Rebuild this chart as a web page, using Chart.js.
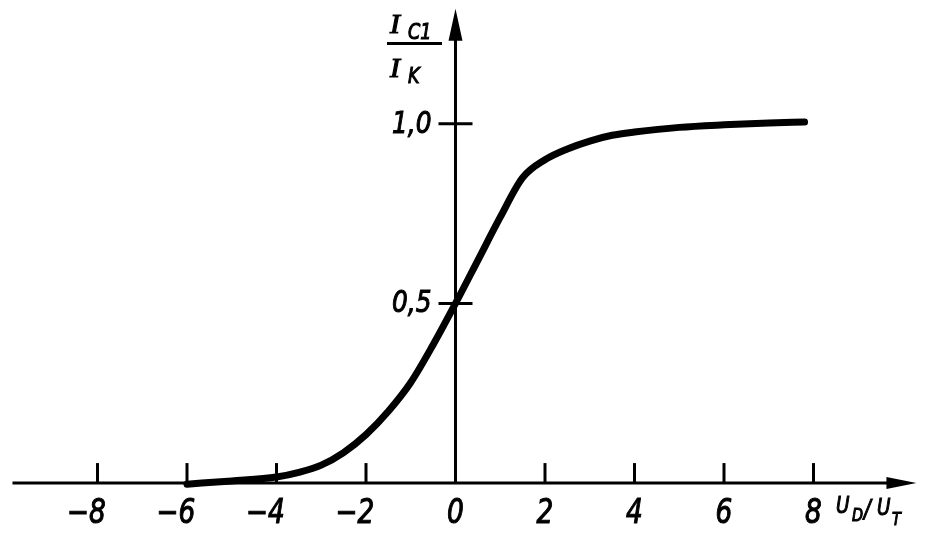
<!DOCTYPE html>
<html>
<head>
<meta charset="utf-8">
<script src="https://cdn.jsdelivr.net/npm/chart.js@4"></script>
<style>
  html, body { margin: 0; padding: 0; background: #fff; }
  #wrap { width: 931px; height: 534px; }
</style>
</head>
<body>
<div id="wrap"><canvas id="sigmoidChart" width="931" height="534"></canvas></div>
<script>
// values
const xValues = [-6, -5, -4, -3.5, -3, -2.5, -2, -1.5, -1, -0.5, 0, 0.5, 1, 1.5, 2, 2.5, 3, 3.5, 4, 5, 6, 7, 7.8];
const ratioValues = [-0.003, 0.006, 0.017, 0.03, 0.05, 0.085, 0.135, 0.2, 0.28, 0.385, 0.5, 0.62, 0.74, 0.85, 0.9, 0.93, 0.952, 0.968, 0.977, 0.99, 0.997, 1.002, 1.005];
const xTicks = [-8, -6, -4, -2, 0, 2, 4, 6, 8];
const xTickLabels = ["−8", "−6", "−4", "−2", "0", "2", "4", "6", "8"];
const yTicks = [0.5, 1.0];
const yTickLabels = ["0,5", "1,0"];

const FONT = '"DejaVu Sans"';

// italic, slightly condensed text like the drawing
function drawText(ctx, str, x, y, size, align, family, sx) {
  ctx.save();
  ctx.translate(x, y);
  ctx.scale(sx || 0.8, 1);
  ctx.font = "italic " + size + "px " + (family || FONT);
  ctx.textAlign = align || "left";
  ctx.textBaseline = "alphabetic";
  ctx.fillStyle = "#000";
  ctx.strokeStyle = "#000";
  ctx.lineWidth = 1.1;
  ctx.fillText(str, 0, 0);
  ctx.strokeText(str, 0, 0);
  ctx.restore();
}

function textWidth(ctx, str, size) {
  ctx.save();
  ctx.font = "italic " + size + "px " + FONT;
  const w = ctx.measureText(str).width * 0.8;
  ctx.restore();
  return w;
}

function arrowHead(ctx, tipX, tipY, dirX, dirY, len, half) {
  const bx = tipX - dirX * len, by = tipY - dirY * len;
  ctx.beginPath();
  ctx.moveTo(tipX, tipY);
  ctx.lineTo(bx - dirY * half, by + dirX * half);
  ctx.lineTo(bx + dirY * half, by - dirX * half);
  ctx.closePath();
  ctx.fill();
}

// axes with arrows, inside ticks and labels
const axesPlugin = {
  id: "axesPlugin",
  beforeDatasetsDraw(chart) {
    const ctx = chart.ctx;
    const xs = chart.scales.x, ys = chart.scales.y;
    const x0 = xs.getPixelForValue(0);
    const y0 = ys.getPixelForValue(0);
    ctx.save();
    ctx.strokeStyle = "#000";
    ctx.fillStyle = "#000";
    ctx.lineWidth = 3;

    // x axis
    const xStart = xs.getPixelForValue(-9.9);
    const xEnd = xs.getPixelForValue(10.3);
    ctx.beginPath();
    ctx.moveTo(xStart, y0);
    ctx.lineTo(xEnd - 10, y0);
    ctx.stroke();
    arrowHead(ctx, xEnd, y0, 1, 0, 30, 6);

    // y axis
    const yTop = ys.getPixelForValue(1.32);
    ctx.beginPath();
    ctx.moveTo(x0, y0 + 1);
    ctx.lineTo(x0, yTop + 10);
    ctx.stroke();
    arrowHead(ctx, x0, yTop, 0, -1, 32, 7);

    // x ticks
    xTicks.forEach((v, i) => {
      const px = xs.getPixelForValue(v);
      if (v !== 0) {
        ctx.beginPath();
        ctx.moveTo(px, y0);
        ctx.lineTo(px, y0 - 20);
        ctx.stroke();
      }
      const label = xTickLabels[i];
      const digits = label.replace("−", "");
      const w = textWidth(ctx, digits, 33);
      drawText(ctx, label, px + w / 2, y0 + 40, 33, "right");
    });

    // y ticks
    yTicks.forEach((v, i) => {
      const py = ys.getPixelForValue(v);
      ctx.beginPath();
      ctx.moveTo(x0 - 17, py);
      ctx.lineTo(x0 + 17, py);
      ctx.stroke();
      drawText(ctx, yTickLabels[i], x0 - 24, py + 9, 31, "right");
    });

    // y title: I_C1 / I_K
    drawText(ctx, "I", 390, 33, 27, "left", '"Liberation Serif"', 1.1);
    drawText(ctx, "C1", 408, 39, 22);
    ctx.beginPath();
    ctx.moveTo(387, 43.5);
    ctx.lineTo(442, 43.5);
    ctx.stroke();
    drawText(ctx, "I", 390, 77, 27, "left", '"Liberation Serif"', 1.1);
    drawText(ctx, "K", 408, 83, 22);

    // x title: U_D / U_T
    drawText(ctx, "U", 836, 513, 23);
    drawText(ctx, "D", 852, 521, 18);
    drawText(ctx, "/", 864, 517, 25);
    drawText(ctx, "U", 877, 515, 23);
    drawText(ctx, "T", 892, 525, 18);

    ctx.restore();
  }
};

const ctx = document.getElementById("sigmoidChart").getContext("2d");
const sigmoidChart = new Chart(ctx, {
  type: "line",
  data: {
    datasets: [
      {
        data: xValues.map((x, i) => ({ x: x, y: ratioValues[i] })),
        borderColor: "#000",
        borderWidth: 7,
        pointRadius: 0,
        borderCapStyle: "round",
        borderJoinStyle: "round",
        cubicInterpolationMode: "monotone",
        fill: false,
        clip: false,
      },
    ],
  },
  options: {
    responsive: false,
    animation: false,
    layout: {
      padding: { left: 8, right: 28, top: 16, bottom: 15 },
    },
    scales: {
      x: { type: "linear", min: -10, max: 10, display: false },
      y: { type: "linear", min: -0.1, max: 1.3, display: false },
    },
    plugins: {
      legend: { display: false },
      tooltip: { enabled: false },
    },
  },
  plugins: [axesPlugin],
});
</script>
</body>
</html>
